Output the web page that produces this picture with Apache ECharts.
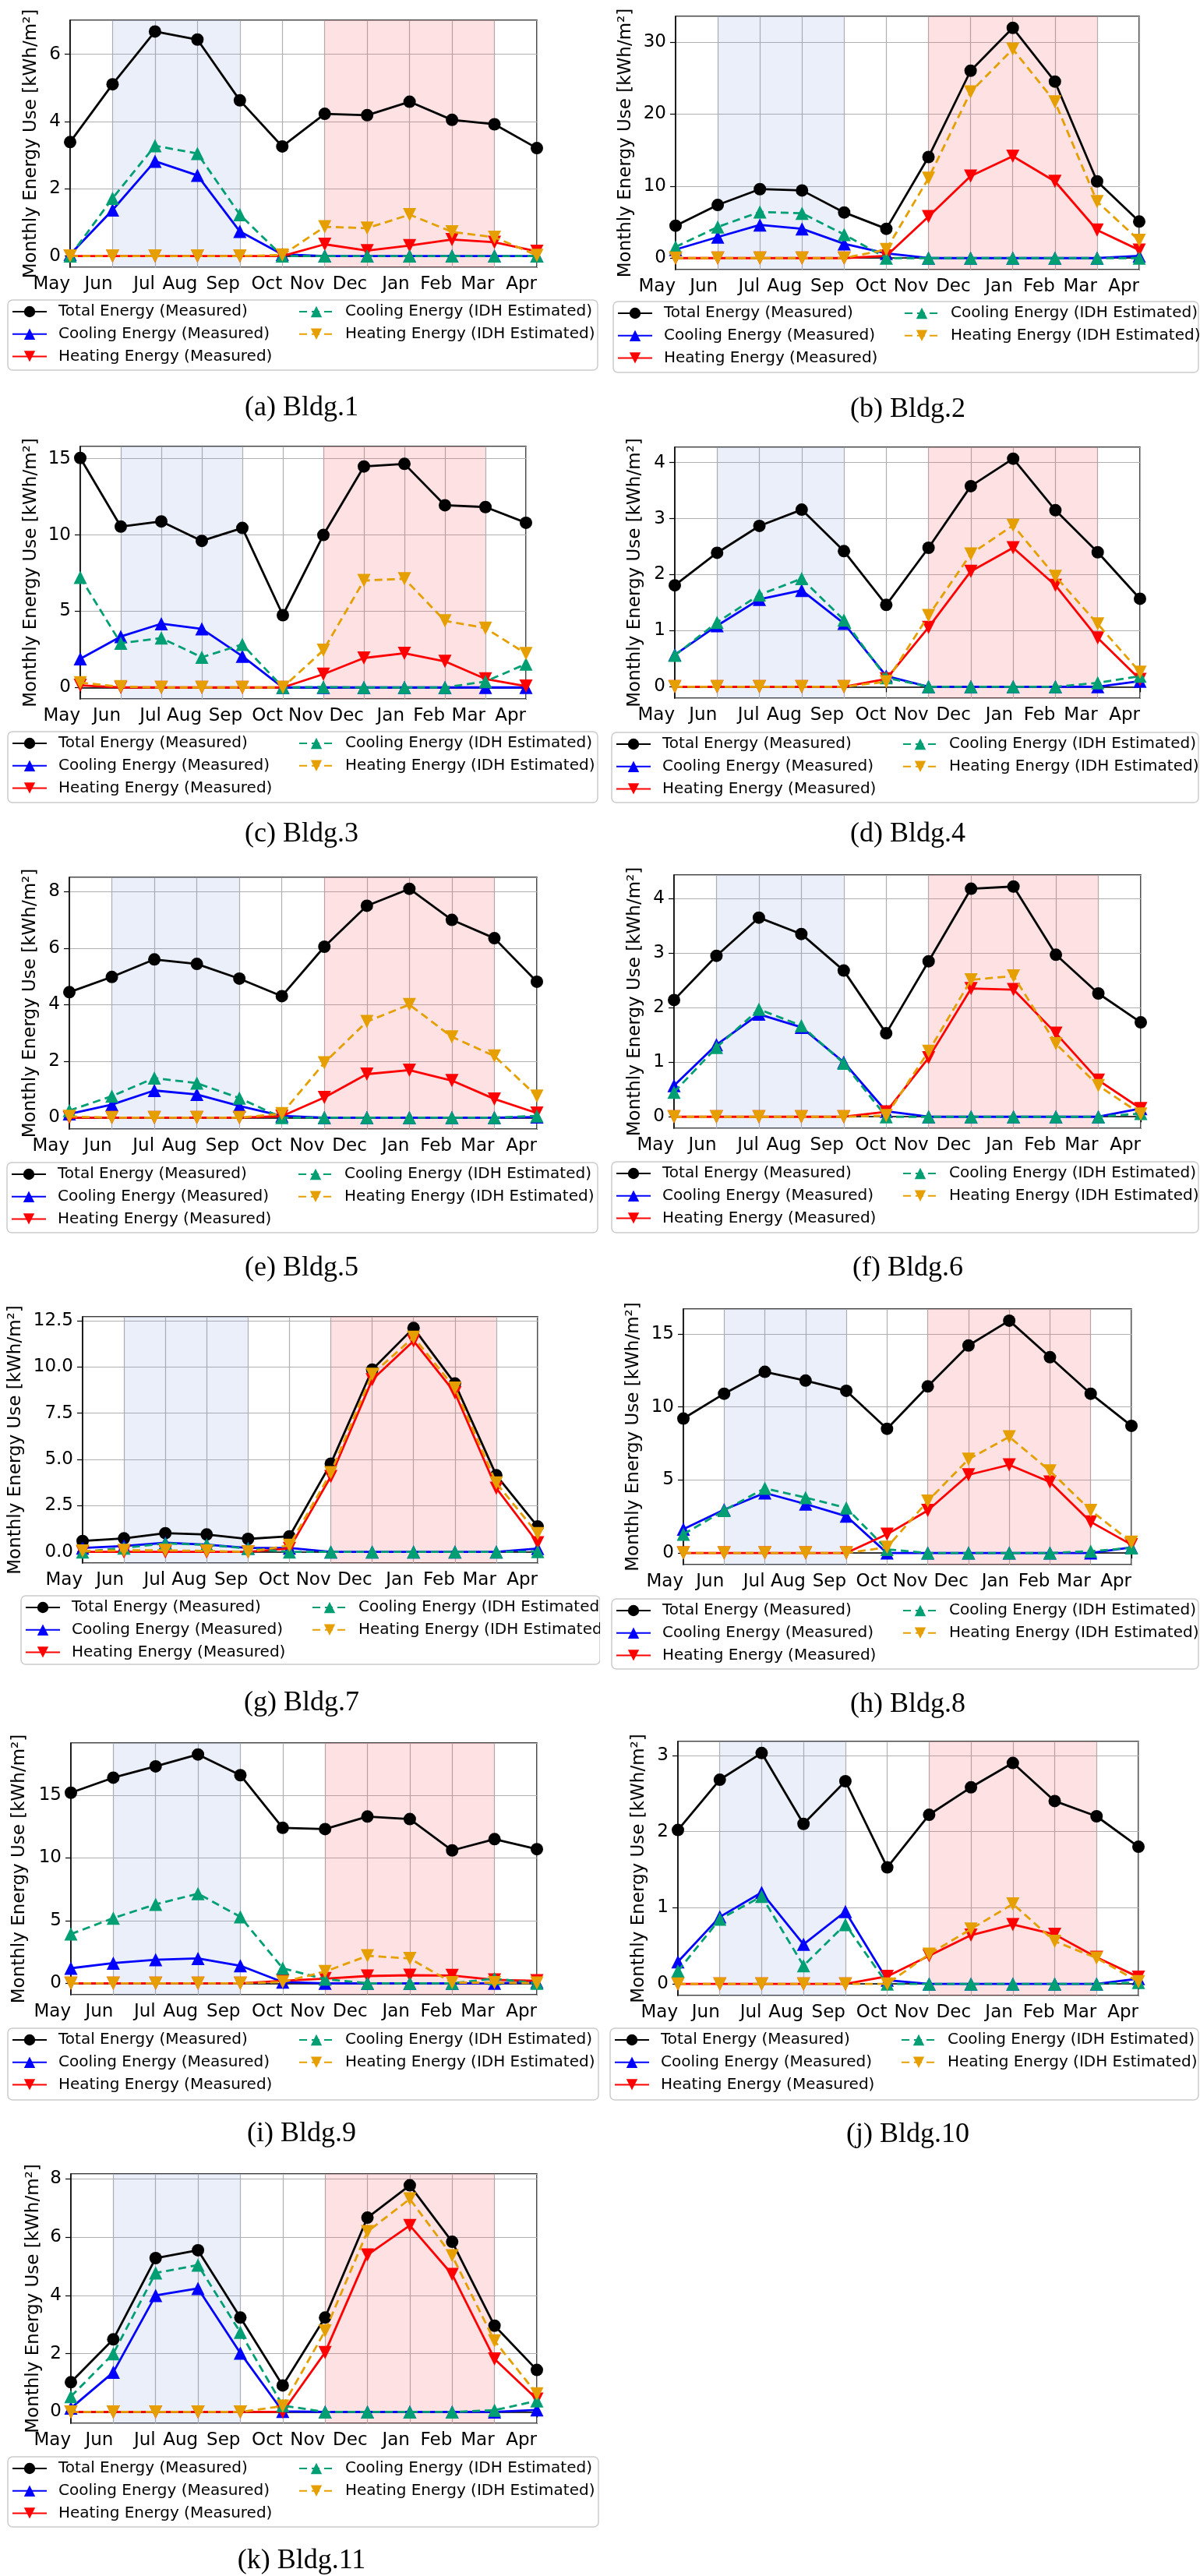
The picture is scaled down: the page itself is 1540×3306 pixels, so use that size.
<!DOCTYPE html>
<html>
<head>
<meta charset="utf-8">
<script src="https://cdn.jsdelivr.net/npm/echarts@6/dist/echarts.min.js"></script>
<style>
html,body{margin:0;padding:0;background:#fff;}
#wrap{position:relative;width:1540px;height:3306px;overflow:hidden;}
.panel{position:absolute;width:770px;}
</style>
</head>
<body>
<div id="wrap"></div>
<script>
// ---------------- DATA ----------------
const months = ['May','Jun','Jul','Aug','Sep','Oct','Nov','Dec','Jan','Feb','Mar','Apr'];
const seriesNames = ['Total Energy (Measured)','Cooling Energy (Measured)','Heating Energy (Measured)','Cooling Energy (IDH Estimated)','Heating Energy (IDH Estimated)'];
const coolingSeason = ['Jun','Sep'];
const heatingSeason = ['Nov','Mar'];
const captions = ['(a) Bldg.1','(b) Bldg.2','(c) Bldg.3','(d) Bldg.4','(e) Bldg.5','(f) Bldg.6','(g) Bldg.7','(h) Bldg.8','(i) Bldg.9','(j) Bldg.10','(k) Bldg.11'];
const yTickSteps = [2, 10, 5, 1, 2, 1, 2.5, 5, 5, 1, 2];
const yTickDecimals = [0, 0, 0, 0, 0, 0, 1, 0, 0, 0, 0];

const b1_total    = [3.39, 5.11, 6.68, 6.44, 4.63, 3.26, 4.23, 4.19, 4.59, 4.05, 3.92, 3.21];
const b1_coolMeas = [0.05, 1.37, 2.82, 2.40, 0.73, 0.05, 0, 0, 0, 0, 0, 0];
const b1_heatMeas = [0, 0, 0, 0, 0, 0, 0.35, 0.16, 0.31, 0.49, 0.41, 0.14];
const b1_coolIDH  = [0, 1.72, 3.28, 3.05, 1.23, 0, 0, 0, 0, 0, 0, 0];
const b1_heatIDH  = [0, 0, 0, 0, 0, 0.03, 0.87, 0.83, 1.23, 0.72, 0.56, 0.02];

const b2_total    = [4.5, 7.38, 9.58, 9.4, 6.34, 4.07, 14.04, 26.03, 31.98, 24.52, 10.66, 5.08];
const b2_coolMeas = [1.19, 2.92, 4.61, 4.07, 1.98, 0.65, 0, 0, 0, 0, 0, 0.3];
const b2_heatMeas = [0, 0, 0, 0, 0, 0.3, 5.76, 11.38, 14.15, 10.66, 3.89, 1.12];
const b2_coolIDH  = [1.55, 4.32, 6.41, 6.23, 3.28, 0, 0, 0, 0, 0, 0, 0];
const b2_heatIDH  = [0, 0, 0, 0, 0, 1.19, 11.09, 23.08, 29.02, 21.71, 7.85, 2.45];

const b3_total    = [15.05, 10.55, 10.89, 9.61, 10.46, 4.74, 10.0, 14.49, 14.66, 11.95, 11.83, 10.8];
const b3_coolMeas = [1.88, 3.34, 4.18, 3.84, 2.05, 0, 0, 0, 0, 0, 0, 0];
const b3_heatMeas = [0.14, 0, 0, 0, 0, 0, 0.87, 1.93, 2.24, 1.71, 0.56, 0.09];
const b3_coolIDH  = [7.22, 2.9, 3.24, 1.98, 2.82, 0, 0.03, 0, 0, 0, 0.39, 1.54];
const b3_heatIDH  = [0.31, 0.05, 0, 0, 0, 0, 2.44, 7.01, 7.13, 4.37, 3.89, 2.22];

const b4_total    = [1.81, 2.39, 2.87, 3.16, 2.42, 1.46, 2.48, 3.58, 4.07, 3.15, 2.40, 1.57];
const b4_coolMeas = [0.57, 1.09, 1.56, 1.72, 1.13, 0.19, 0, 0, 0, 0, 0, 0.1];
const b4_heatMeas = [0, 0, 0, 0, 0, 0.14, 1.06, 2.06, 2.48, 1.81, 0.87, 0.13];
const b4_coolIDH  = [0.56, 1.15, 1.64, 1.93, 1.19, 0.16, 0, 0, 0, 0, 0.07, 0.19];
const b4_heatIDH  = [0, 0, 0, 0, 0, 0.09, 1.27, 2.37, 2.88, 1.97, 1.12, 0.26];

const b5_total    = [4.44, 4.98, 5.6, 5.44, 4.92, 4.3, 6.05, 7.5, 8.1, 7.0, 6.35, 4.81];
const b5_coolMeas = [0.13, 0.46, 0.96, 0.82, 0.41, 0.06, 0, 0, 0, 0, 0, 0.02];
const b5_heatMeas = [0, 0, 0, 0, 0, 0.05, 0.71, 1.54, 1.68, 1.31, 0.66, 0.16];
const b5_coolIDH  = [0.25, 0.76, 1.4, 1.22, 0.69, 0, 0, 0, 0, 0, 0, 0.06];
const b5_heatIDH  = [0.04, 0, 0, 0, 0, 0.14, 1.94, 3.4, 4.0, 2.86, 2.18, 0.76];

const b6_total    = [2.14, 2.95, 3.65, 3.35, 2.68, 1.53, 2.85, 4.18, 4.22, 2.97, 2.26, 1.73];
const b6_coolMeas = [0.57, 1.32, 1.88, 1.64, 1.0, 0.1, 0, 0, 0, 0, 0, 0.15];
const b6_heatMeas = [0, 0, 0, 0, 0, 0.09, 1.08, 2.35, 2.33, 1.53, 0.67, 0.15];
const b6_coolIDH  = [0.45, 1.27, 1.97, 1.67, 0.98, 0, 0, 0, 0, 0, 0, 0.06];
const b6_heatIDH  = [0, 0, 0, 0, 0, 0.02, 1.2, 2.51, 2.58, 1.34, 0.57, 0.05];

const b7_total    = [0.59, 0.73, 1.01, 0.94, 0.7, 0.84, 4.77, 9.85, 12.1, 9.1, 4.14, 1.37];
const b7_coolMeas = [0.21, 0.32, 0.49, 0.39, 0.21, 0.21, 0, 0, 0, 0, 0, 0.18];
const b7_heatMeas = [0, 0, 0, 0, 0, 0.18, 4.07, 9.3, 11.4, 8.6, 3.44, 0.49];
const b7_coolIDH  = [0, 0.21, 0.46, 0.38, 0.18, 0, 0, 0, 0, 0, 0, 0.02];
const b7_heatIDH  = [0.05, 0.08, 0.08, 0.05, 0, 0.35, 4.28, 9.6, 11.6, 8.85, 3.72, 0.98];

const b8_total    = [9.2, 10.9, 12.4, 11.8, 11.1, 8.5, 11.4, 14.2, 15.9, 13.4, 10.9, 8.7];
const b8_coolMeas = [1.63, 2.96, 4.11, 3.35, 2.52, 0, 0, 0, 0, 0, 0, 0.39];
const b8_heatMeas = [0, 0, 0, 0, 0, 1.28, 2.91, 5.35, 6.03, 4.86, 2.13, 0.57];
const b8_coolIDH  = [1.28, 2.91, 4.43, 3.79, 3.09, 0.25, 0, 0, 0, 0, 0.12, 0.35];
const b8_heatIDH  = [0, 0, 0, 0, 0, 0.39, 3.55, 6.42, 7.95, 5.62, 2.91, 0.74];

const b9_total    = [15.2, 16.4, 17.3, 18.25, 16.6, 12.4, 12.3, 13.3, 13.1, 10.6, 11.5, 10.7];
const b9_coolMeas = [1.2, 1.61, 1.88, 1.98, 1.4, 0.1, 0, 0, 0, 0, 0, 0.1];
const b9_heatMeas = [0, 0, 0, 0, 0, 0.2, 0.37, 0.58, 0.64, 0.62, 0.27, 0.2];
const b9_coolIDH  = [3.93, 5.2, 6.3, 7.15, 5.3, 1.2, 0.33, 0, 0, 0, 0.37, 0];
const b9_heatIDH  = [0, 0, 0, 0, 0, 0.1, 0.93, 2.19, 1.98, 0.05, 0.05, 0.02];

const b10_total    = [2.02, 2.68, 3.03, 2.1, 2.66, 1.53, 2.22, 2.58, 2.9, 2.4, 2.2, 1.8];
const b10_coolMeas = [0.29, 0.88, 1.2, 0.52, 0.95, 0.05, 0, 0, 0, 0, 0, 0.07];
const b10_heatMeas = [0, 0, 0, 0, 0, 0.1, 0.37, 0.64, 0.78, 0.65, 0.35, 0.09];
const b10_coolIDH  = [0.17, 0.85, 1.15, 0.24, 0.78, 0, 0, 0, 0, 0, 0, 0.02];
const b10_heatIDH  = [0, 0, 0, 0, 0, 0, 0.39, 0.72, 1.05, 0.56, 0.34, 0.03];

const b11_total    = [1.02, 2.49, 5.28, 5.55, 3.24, 0.91, 3.24, 6.67, 7.78, 5.84, 2.96, 1.44];
const b11_coolMeas = [0.13, 1.36, 4.0, 4.24, 2.02, 0.02, 0, 0, 0, 0, 0, 0.07];
const b11_heatMeas = [0, 0, 0, 0, 0, 0, 2.04, 5.39, 6.4, 4.72, 1.82, 0.44];
const b11_coolIDH  = [0.53, 2.0, 4.77, 5.04, 2.73, 0.22, 0, 0, 0, 0, 0.06, 0.38];
const b11_heatIDH  = [0, 0, 0, 0, 0, 0.2, 2.78, 6.19, 7.31, 5.36, 2.44, 0.62];

const buildings = [
  [b1_total, b1_coolMeas, b1_heatMeas, b1_coolIDH, b1_heatIDH],
  [b2_total, b2_coolMeas, b2_heatMeas, b2_coolIDH, b2_heatIDH],
  [b3_total, b3_coolMeas, b3_heatMeas, b3_coolIDH, b3_heatIDH],
  [b4_total, b4_coolMeas, b4_heatMeas, b4_coolIDH, b4_heatIDH],
  [b5_total, b5_coolMeas, b5_heatMeas, b5_coolIDH, b5_heatIDH],
  [b6_total, b6_coolMeas, b6_heatMeas, b6_coolIDH, b6_heatIDH],
  [b7_total, b7_coolMeas, b7_heatMeas, b7_coolIDH, b7_heatIDH],
  [b8_total, b8_coolMeas, b8_heatMeas, b8_coolIDH, b8_heatIDH],
  [b9_total, b9_coolMeas, b9_heatMeas, b9_coolIDH, b9_heatIDH],
  [b10_total, b10_coolMeas, b10_heatMeas, b10_coolIDH, b10_heatIDH],
  [b11_total, b11_coolMeas, b11_heatMeas, b11_coolIDH, b11_heatIDH]
];

// ---------------- LAYOUT / STYLE ----------------
const rowTops = [0, 550, 1100, 1660, 2210, 2765];
const rowHeights = [550, 550, 560, 550, 555, 541];
// plot: [left, right, top, bottom] absolute px; box: [x, y, w, h]
const layout = [
  {col:0,row:0,plot:[90,689,26,343],  gap:38, box:[10,385,757,90],  capY:524},
  {col:1,row:0,plot:[867,1462,21,346],gap:52, box:[787,387,751,91], capY:526},
  {col:0,row:1,plot:[103,675,573,897],gap:51, box:[10,939,757,91],  capY:1071},
  {col:1,row:1,plot:[866,1463,574,896],gap:39,box:[785,940,753,90], capY:1071},
  {col:0,row:2,plot:[89,689,1126,1449],gap:38,box:[9,1492,758,90],  capY:1628},
  {col:1,row:2,plot:[865,1464,1123,1448],gap:38,box:[785,1491,753,91],capY:1628},
  {col:0,row:3,plot:[106,690,1690,2006],gap:74,box:[27,2048,743,88],capY:2186},
  {col:1,row:3,plot:[877,1452,1680,2008],gap:52,box:[785,2052,753,90],capY:2188},
  {col:0,row:4,plot:[91,689,2237,2560],gap:54, box:[10,2603,758,92], capY:2739},
  {col:1,row:4,plot:[870,1461,2235,2561],gap:38,box:[783,2603,755,92],capY:2740},
  {col:0,row:5,plot:[91,689,2790,3110],gap:36, box:[10,3153,758,90], capY:3287}
];
const capCenters = [387, 1165];
const triDown = 'path://M0,0L10,0L5,10Z';
const styles = [
  {color:'#000000', symbol:'circle',   size:16, type:'solid'},
  {color:'#0000ff', symbol:'triangle', size:17, type:'solid'},
  {color:'#ff0000', symbol:triDown,    size:17, type:'solid'},
  {color:'#009e73', symbol:'triangle', size:17, type:[10,6]},
  {color:'#e69f00', symbol:triDown,    size:17, type:[10,6]}
];
const FONT = '"DejaVu Sans", sans-serif';
const gridColor = '#b0b0b0';

const wrap = document.getElementById('wrap');

layout.forEach((p, i) => {
  const dx = p.col * 770, dy = rowTops[p.row];
  const div = document.createElement('div');
  div.className = 'panel';
  div.style.left = dx + 'px';
  div.style.top = dy + 'px';
  div.style.height = rowHeights[p.row] + 'px';
  wrap.appendChild(div);
  const chart = echarts.init(div, null, {renderer:'canvas'});

  const data = buildings[i];
  let all = [];
  data.forEach(a => { all = all.concat(a); });
  const dmin = Math.min(0, Math.min.apply(null, all));
  const dmax = Math.max.apply(null, all);
  const pad = 0.05 * (dmax - dmin);
  const step = yTickSteps[i];
  const dec = yTickDecimals[i];

  const series = data.map((vals, k) => {
    const st = styles[k];
    const s = {
      name: seriesNames[k], type:'line', data: vals,
      symbol: st.symbol, symbolSize: st.size, showSymbol:true,
      lineStyle:{color:st.color, width:2.8, type:st.type},
      itemStyle:{color:st.color, borderWidth:0},
      z: 2 + k, animation:false, silent:true, clip:true
    };
    if (k === 0) {
      s.markArea = {
        silent:true, z:1,
        data:[
          [{xAxis:coolingSeason[0], itemStyle:{color:'rgba(116,150,214,0.15)'}}, {xAxis:coolingSeason[1]}],
          [{xAxis:heatingSeason[0], itemStyle:{color:'rgba(245,80,90,0.17)'}}, {xAxis:heatingSeason[1]}]
        ]
      };
    }
    return s;
  });

  const bx = p.box[0] - dx, by = p.box[1] - dy;
  const legendCommon = {
    orient:'vertical', top: by + 5, itemWidth:44, itemHeight:18, itemGap:8.7, padding:0,
    selectedMode:false,
    textStyle:{fontSize:20, fontFamily:FONT, color:'#000', padding:[0,0,0,10]}
  };

  chart.setOption({
    animation:false,
    backgroundColor:'#fff',
    textStyle:{fontFamily:FONT},
    grid:{
      left: p.plot[0] - dx, top: p.plot[2] - dy,
      width: p.plot[1] - p.plot[0], height: p.plot[3] - p.plot[2],
      show:true, borderColor:'#000', borderWidth:1.5, backgroundColor:'transparent',
      containLabel:false, outerBoundsMode:'none'
    },
    xAxis:{
      type:'category', data: months, boundaryGap:false,
      axisLine:{show:true, lineStyle:{color:'#000', width:1.5}},
      axisTick:{show:true, length:7, lineStyle:{color:'#000', width:1.2}},
      axisLabel:{interval:0, align:'right', margin:11, fontSize:23, fontFamily:FONT, color:'#000', hideOverlap:false},
      splitLine:{show:true, interval:0, lineStyle:{color:gridColor, width:1.2}}
    },
    yAxis:{
      type:'value', min: dmin - pad, max: dmax + pad,
      minInterval: step, maxInterval: step,
      axisLine:{show:true, lineStyle:{color:'#000', width:1.5}},
      axisTick:{show:true, length:7, lineStyle:{color:'#000', width:1.2}},
      axisLabel:{showMinLabel:false, showMaxLabel:false, margin:12, fontSize:23, fontFamily:FONT, color:'#000',
        formatter: v => Number(v).toFixed(dec)},
      splitLine:{show:true, lineStyle:{color:gridColor, width:1.2}},
      name:'Monthly Energy Use [kWh/m²]', nameLocation:'middle', nameGap:p.gap, nameMoveOverlap:false,
      nameTextStyle:{fontSize:23, fontFamily:FONT, color:'#000'}
    },
    legend:[
      Object.assign({}, legendCommon, {left: bx + 5, data: seriesNames.slice(0,3)}),
      Object.assign({}, legendCommon, {left: bx + 373, data: seriesNames.slice(3)})
    ],
    graphic:[
      {type:'rect', z:0, silent:true, shape:{x:bx, y:by, width:p.box[2], height:p.box[3], r:6},
       style:{fill:'#fff', stroke:'#cccccc', lineWidth:1.5}},
      {type:'text', z:0, silent:true, x: capCenters[p.col] - dx, y: p.capY - dy,
       style:{text: captions[i], font:'36px "Liberation Serif"', fill:'#000', textAlign:'center', textVerticalAlign:'middle'}}
    ],
    series: series
  });
});
</script>
</body>
</html>
